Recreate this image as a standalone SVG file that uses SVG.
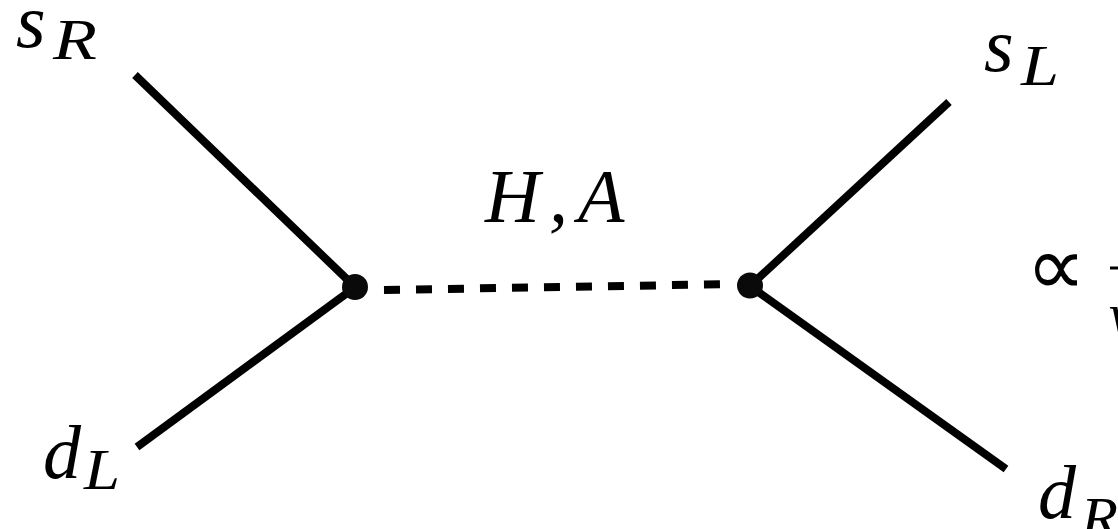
<svg xmlns="http://www.w3.org/2000/svg" width="1118" height="529" viewBox="0 0 1118 529">
<style>
.m{font-family:"Liberation Serif",serif;font-style:italic;fill:#000}
.b{font-size:76px}
.s{font-size:58px}
.l{stroke:#000;stroke-width:8;fill:none;stroke-linecap:butt}
</style>
<rect width="1118" height="529" fill="#fff"/>
<g id="connectors">
<line class="l" x1="135" y1="75" x2="354" y2="286"/>
<line class="l" x1="137" y1="447" x2="354" y2="288"/>
<line class="l" x1="949" y1="102" x2="750" y2="286"/>
<line class="l" x1="1006" y1="469" x2="750" y2="286"/>
<line class="l" x1="384" y1="290" x2="720" y2="284.300" stroke-dasharray="16 16"/>
</g>
<g id="vertex-left"><circle cx="355" cy="287" r="13" fill="#0a0a0a"/></g>
<g id="vertex-right"><circle cx="750" cy="285.500" r="13" fill="#0a0a0a"/></g>
<g id="label-sR"><text class="m b" x="16" y="47">s</text><text class="m s" x="53" y="59" textLength="44" lengthAdjust="spacingAndGlyphs">R</text></g>
<g id="label-sL"><text class="m b" x="984" y="71">s</text><text class="m s" x="1021" y="85" textLength="38" lengthAdjust="spacingAndGlyphs">L</text></g>
<g id="label-dL"><text class="m b" x="43" y="478">d</text><text class="m s" x="84" y="489" textLength="36" lengthAdjust="spacingAndGlyphs">L</text></g>
<g id="label-dR"><text class="m b" x="1038" y="518">d</text><text class="m s" x="1081" y="537" textLength="37" lengthAdjust="spacingAndGlyphs">R</text></g>
<g id="label-HA"><text class="m b" x="485" y="222">H<tspan x="549">,</tspan><tspan x="578">A</tspan></text></g>
<g id="label-prop"><text font-family="DejaVu Sans, sans-serif" font-size="84" x="1026" y="295">∝</text>
<line x1="1110" y1="268" x2="1118" y2="268" stroke="#000" stroke-width="3"/>
<text class="m s" x="1109" y="333">v</text></g>
</svg>
